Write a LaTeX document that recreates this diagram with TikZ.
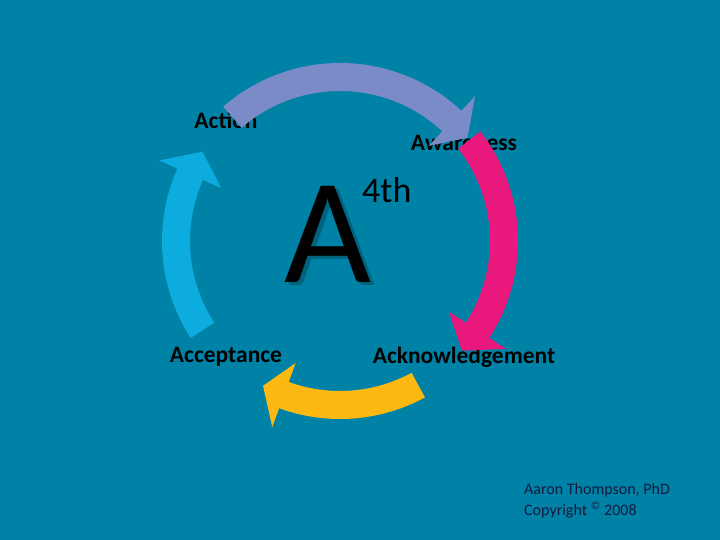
\documentclass[tikz,border=0pt]{standalone}
\usepackage{fontspec}
\setmainfont{Carlito}
\usetikzlibrary{calc}
\definecolor{bgteal}{RGB}{0,130,166}
\definecolor{shadeteal}{RGB}{0,98,126}
\definecolor{actblue}{RGB}{123,139,200}
\definecolor{awpink}{RGB}{232,24,125}
\definecolor{ackgold}{RGB}{253,185,18}
\definecolor{accyan}{RGB}{12,172,222}
\definecolor{inkblue}{RGB}{22,26,62}

\newcommand{\cyclearrow}[4]{%
  \fill[#1] ($(ctr)+(#2:178)$) arc[start angle=#2, end angle=#3, radius=178]
    -- ($(ctr)+(#3:198)$) -- ($(ctr)+(#4:164)$) -- ($(ctr)+(#3:130)$)
    -- ($(ctr)+(#3:150)$) arc[start angle=#3, end angle=#2, radius=150] -- cycle;}

\begin{document}
\begin{tikzpicture}[x=1pt, y=1pt,
    stagelabel/.style={font=\fontsize{23.5}{26}\selectfont\bfseries, text=black, inner sep=0pt},
    bigletter/.style={font=\fontsize{150}{150}\selectfont, anchor=base, inner sep=0pt},
    credit/.style={font=\fontsize{16}{18}\selectfont, text=inkblue, anchor=west, inner sep=0pt}]
    \fill[bgteal] (0,0) rectangle (720,540);
    \coordinate (ctr) at (340,299);

    \node[stagelabel] (action) at (226,420) {Action};
    \node[stagelabel] (awareness) at (464,397) {Awareness};
    \node[stagelabel] (acceptance) at (226,183) {Acceptance};
    \node[stagelabel] (acknowledgement) at (464,183) {Acknowledgement};

    \node[bigletter, text=shadeteal] (ashadow) at (332,254) {A};
    \node[bigletter, text=black] (bigA) at (328,257) {A};
    \node[font=\fontsize{36}{40}\selectfont, anchor=base west, inner sep=0pt] (fourth) at (362,337) {4th};

    \cyclearrow{actblue}{131}{47}{39}
    \cyclearrow{awpink}{38}{-33}{-42}
    \cyclearrow{ackgold}{-61.5}{-110}{-118}
    \cyclearrow{accyan}{213}{156}{147}

    \node[credit] (author) at (524,50) {Aaron Thompson, PhD};
    \node[credit] (copyright) at (524,30) {Copyright \textsuperscript{\textcopyright} 2008};
\end{tikzpicture}
\end{document}
